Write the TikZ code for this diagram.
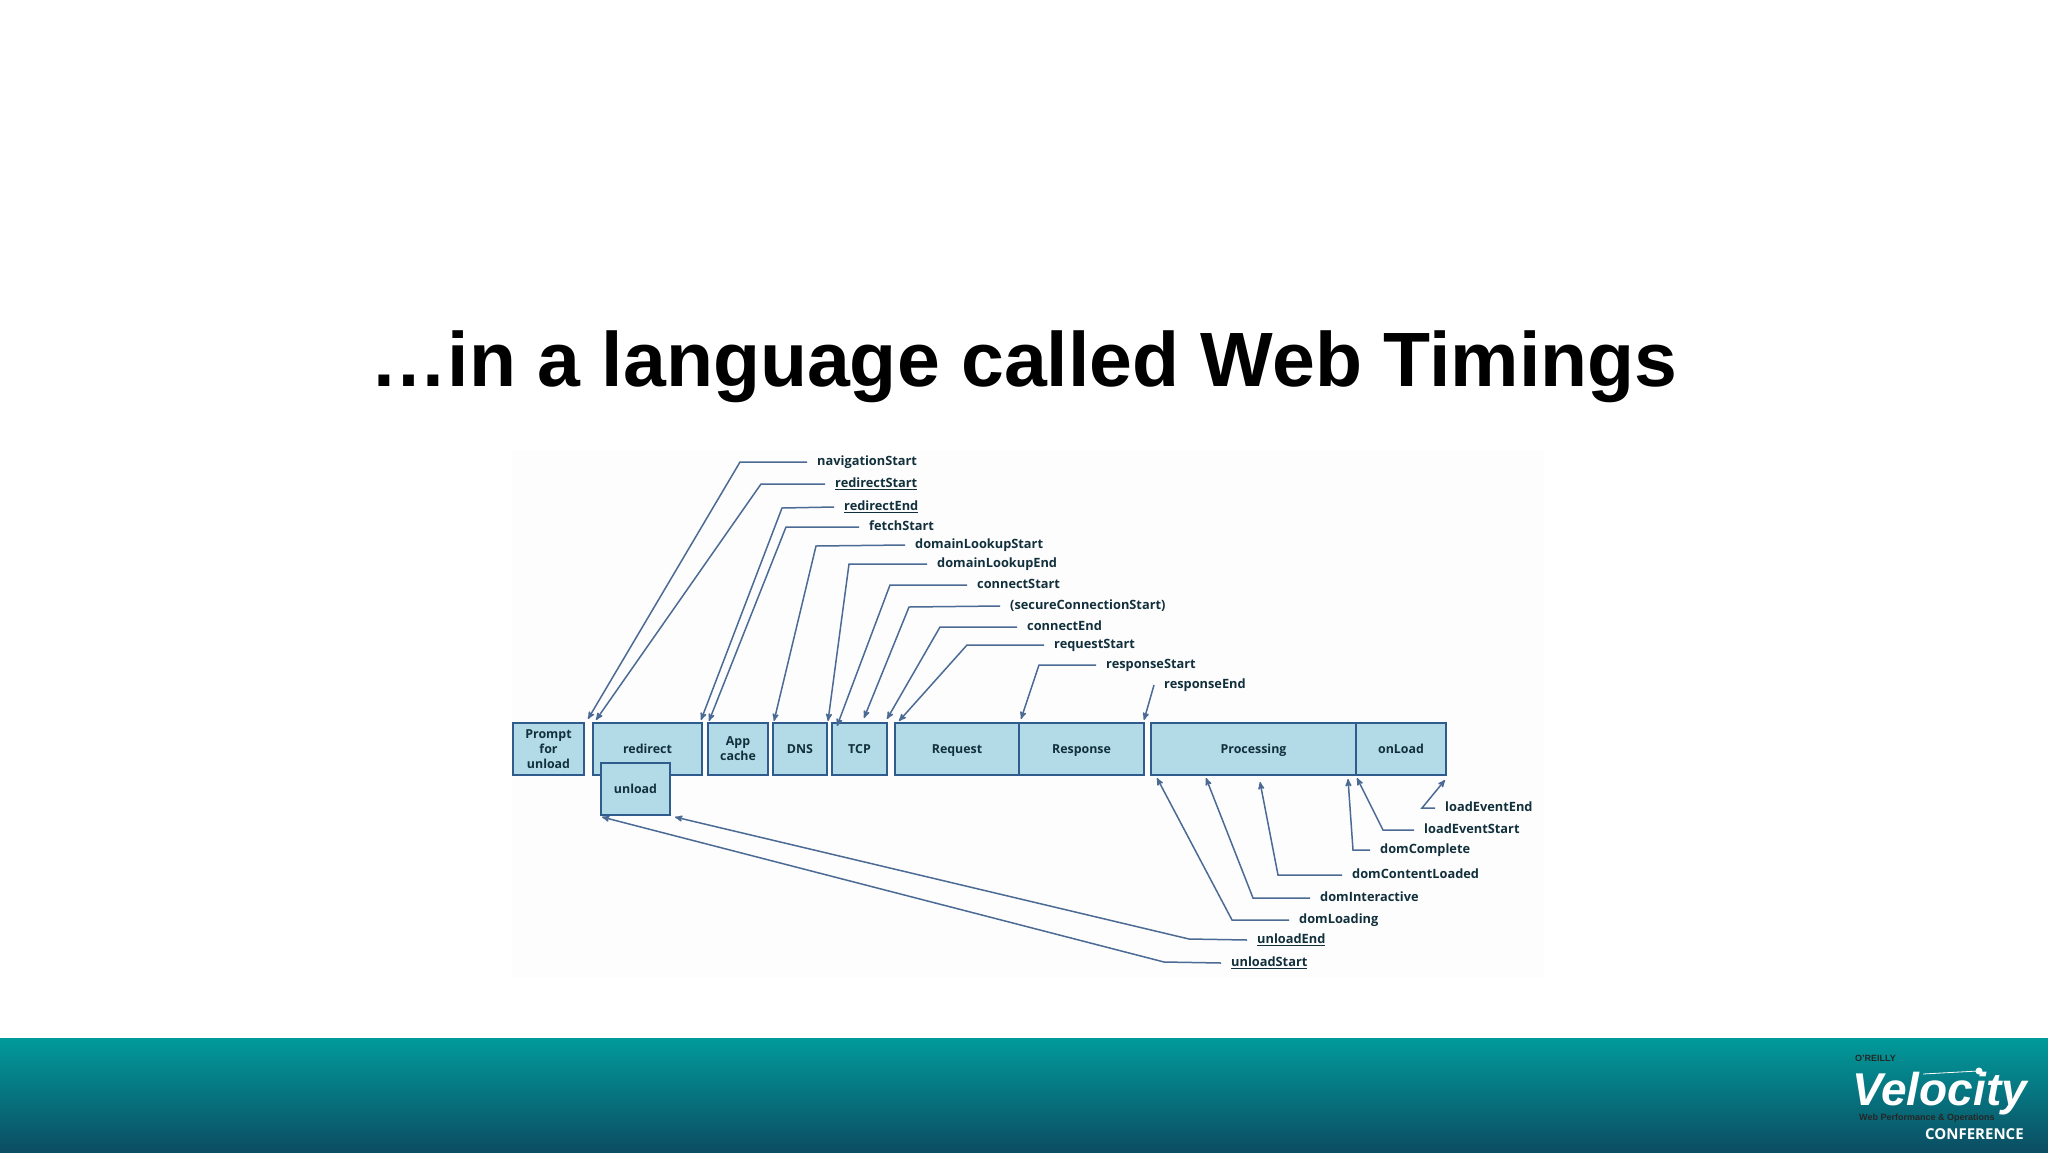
\documentclass[tikz,border=0pt]{standalone}
\usepackage{fontspec}
\setmainfont{Liberation Sans}
\newfontfamily\diagfont{Open Sans}
\usetikzlibrary{arrows,positioning}
\definecolor{boxfill}{HTML}{B2DAE7}
\definecolor{boxline}{HTML}{2F5C8C}
\definecolor{wireline}{HTML}{4B6B94}
\definecolor{inktext}{HTML}{12303C}
\definecolor{panelbg}{HTML}{FDFDFE}
\definecolor{bandtop}{HTML}{019A9B}
\definecolor{bandlow}{HTML}{0C4D62}

\begin{document}
\begin{tikzpicture}[x=1pt,y=-1pt,>=stealth',node distance=6pt]
  \tikzstyle{timebox}=[rectangle,line width=2.3pt,draw=boxline,fill=boxfill,outer sep=0pt,inner sep=0pt,
    minimum height=52pt,align=center,text=inktext,font=\diagfont\bfseries\fontsize{12.4}{14.8}\selectfont]
  \tikzstyle{timing}=[inner xsep=10pt,inner ysep=2pt,text height=9.5pt,text depth=3pt,anchor=west,text=inktext,font=\diagfont\bfseries\fontsize{12.8}{14}\selectfont]
  \tikzstyle{wire}=[->,line width=1.5pt,draw=wireline]

  \useasboundingbox (0,0) rectangle (2048,1152);
  \fill[white] (0,0) rectangle (2048,1152);
  \fill[panelbg] (512,450) rectangle (1544,977);

  \node (title) [anchor=base,font=\bfseries\fontsize{77}{84}\selectfont] at (1024,386) {…in a language called Web Timings};

    % top row
    \node [timebox,minimum width=71pt,anchor=north west] (prompt) at (513,723) {Prompt\\for\\unload};
    \node [timebox,minimum width=109pt,right=9pt of prompt] (redirect) {redirect};
    \node [timebox,minimum width=60pt,right=6pt of redirect] (appcache) {App\\cache};
    \node [timebox,minimum width=54pt,right=5pt of appcache] (dns) {DNS};
    \node [timebox,minimum width=55pt,right=5pt of dns] (tcp) {TCP};
    \node [timebox,minimum width=124pt,text depth=0pt,right=8pt of tcp] (request) {Request};
    \node [timebox,minimum width=125pt,text depth=0pt,right=0pt of request] (response) {Response};
    \node [timebox,minimum width=205pt,text depth=0pt,right=7pt of response] (processing) {Processing};
    \node [timebox,minimum width=90pt,right=0pt of processing] (onload) {onLoad};
    \node [timebox,minimum width=69pt,anchor=north west] (unload) at ([shift={(8,40)}]redirect.north west) {unload};

    % labels above
    \node [timing] (navstart) at (807,462) {navigationStart};
    \node [timing] (redirstart) at (825,484) {\underline{redirectStart}};
    \node [timing] (redirend) at (834,507) {\underline{redirectEnd}};
    \node [timing] (fetchstart) at (859,527) {fetchStart};
    \node [timing] (dnsstart) at (905,545) {domainLookupStart};
    \node [timing] (dnsend) at (927,564) {domainLookupEnd};
    \node [timing] (connstart) at (967,585) {connectStart};
    \node [timing] (secstart) at (1000,606) {(secureConnectionStart)};
    \node [timing] (connend) at (1017,627) {connectEnd};
    \node [timing] (reqstart) at (1044,645) {requestStart};
    \node [timing] (respstart) at (1096,665) {responseStart};
    \node [timing] (respend) at (1154,685) {responseEnd};

    % labels below
    \node [timing] (loadend) at (1435,808) {loadEventEnd};
    \node [timing] (loadstart) at (1414,830) {loadEventStart};
    \node [timing] (domcomplete) at (1370,850) {domComplete};
    \node [timing] (domcontent) at (1342,875) {domContentLoaded};
    \node [timing] (dominter) at (1310,898) {domInteractive};
    \node [timing] (domloading) at (1289,920) {domLoading};
    \node [timing] (unloadend) at (1247,940) {\underline{unloadEnd}};
    \node [timing] (unloadstart) at (1221,963) {\underline{unloadStart}};

    \draw [wire] (navstart.west) -- ++(-67,0) -- ([shift={(-5,-4)}]redirect.north west);
    \draw [wire] (redirstart.west) -- ++(-64,0) -- ([shift={(3,-3)}]redirect.north west);
    \draw [wire] (redirend.west) -- ++(-52,1) -- ([shift={(-1,-3)}]redirect.north east);
    \draw [wire] (fetchstart.west) -- ++(-73,0) -- ([shift={(1,-2)}]appcache.north west);
    \draw [wire] (dnsstart.west) -- ++(-89,1) -- ([shift={(1,-2)}]dns.north west);
    \draw [wire] (dnsend.west) -- ++(-78,0) -- ([shift={(1,-2)}]dns.north east);
    \draw [wire] (connstart.west) -- ++(-77,0) -- ([shift={(5,3)}]tcp.north west);
    \draw [wire] (secstart.west) -- ++(-91,1) -- ([shift={(32,-5)}]tcp.north west);
    \draw [wire] (connend.west) -- ++(-77,0) -- ([shift={(0,-4)}]tcp.north east);
    \draw [wire] (reqstart.west) -- ++(-77,0) -- ([shift={(4,-2)}]request.north west);
    \draw [wire] (respstart.west) -- ++(-57,0) -- ([shift={(2,-4)}]response.north west);
    \draw [wire] (respend.west) -- ([shift={(0,-3)}]response.north east);

    \draw [wire] (loadend.west) -- ++(-13,0) -- ([shift={(-1,5)}]onload.south east);
    \draw [wire] (loadstart.west) -- ++(-31,0) -- ([shift={(1,3)}]onload.south west);
    \draw [wire] (domcomplete.west) -- ++(-17,0) -- ([shift={(-8,4)}]processing.south east);
    \draw [wire] (domcontent.west) -- ++(-64,0) -- ([shift={(109,7)}]processing.south west);
    \draw [wire] (dominter.west) -- ++(-57,0) -- ([shift={(55,3)}]processing.south west);
    \draw [wire] (domloading.west) -- ++(-57,0) -- ([shift={(6,3)}]processing.south west);
    \draw [wire] (unloadend.west) -- ++(-58,-1) -- ([shift={(5,2)}]unload.south east);
    \draw [wire] (unloadstart.west) -- ++(-57,-1) -- ([shift={(1,2)}]unload.south west);

  % footer band and logo
  \shade[top color=bandtop,bottom color=bandlow] (0,1038) rectangle (2048,1152);
  \node (oreilly) [anchor=base west,inner sep=0pt,text=black!85,font=\bfseries\fontsize{9}{10}\selectfont] at (1855,1061) {O'REILLY};
  \node (velocity) [anchor=base west,inner sep=0pt,text=white,font=\bfseries\itshape\fontsize{46}{50}\selectfont] at (1852,1105) {Velocity};
  \node (webperf) [anchor=base west,inner sep=0pt,text=black!85,font=\bfseries\fontsize{9}{10}\selectfont] at (1859,1120) {Web Performance \& Operations};
  \node (conference) [anchor=base west,inner sep=0pt,text=white,font=\diagfont\bfseries\fontsize{15}{16}\selectfont] at (1925,1139) {CONFERENCE};
  \draw[white,line width=0.8pt] (1923,1074) -- (1978,1071);
  \fill[white] (1979,1071) circle (3.5);
\end{tikzpicture}
\end{document}
